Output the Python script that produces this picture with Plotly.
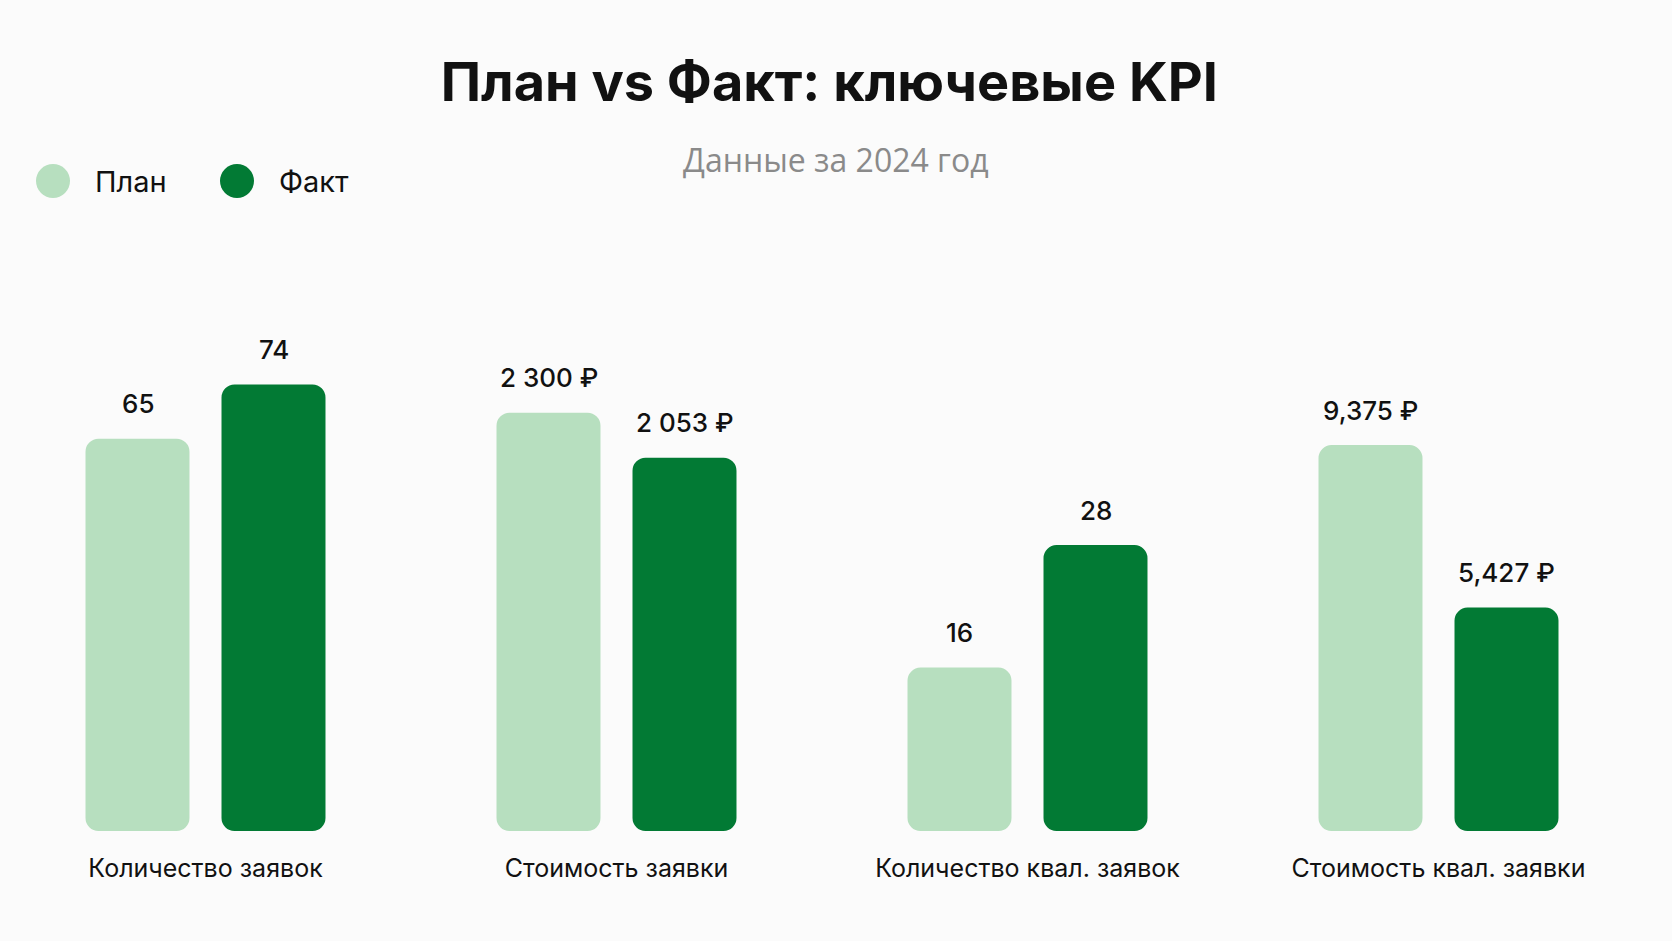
import plotly.graph_objects as go
from plotly.subplots import make_subplots

# KPI data, 2024
categories = ["Количество заявок", "Стоимость заявки",
              "Количество квал. заявок", "Стоимость квал. заявки"]
series_names = ["План", "Факт"]
plan_values = [65, 2300, 16, 9375]
fact_values = [74, 2053, 28, 5427]
plan_labels = ["65", "2 300 ₽", "16", "9,375 ₽"]
fact_labels = ["74", "2 053 ₽", "28", "5,427 ₽"]

# every KPI has its own scale
y_scale_max = [88, 2920, 52, 12900]

colors = ["#b7dfbf", "#027a34"]
bg = "#fbfbfb"
W, H = 1672, 941
M = dict(l=0, r=28, t=300, b=110)
RADIUS = 13          # px, bar corner radius
BAR_W = 0.253        # bar width in category units
BAR_SHIFT = 68       # px, distance of each bar from group centre

pw = W - M["l"] - M["r"]
ph = H - M["t"] - M["b"]
unit_px = pw / 4     # one category unit in pixels


def px(x):
    return (x - M["l"]) / pw


def py(y):
    return (H - M["b"] - y) / ph


fig = make_subplots(rows=1, cols=4, horizontal_spacing=0)

for i, cat in enumerate(categories):
    for name, vals, labels, color, sign in zip(
            series_names, [plan_values, fact_values], [plan_labels, fact_labels], colors, [-1, 1]):
        offset = (sign * BAR_SHIFT) / unit_px - BAR_W / 2
        # explicit base -> plotly rounds both ends of the bar
        fig.add_trace(go.Bar(
            x=[cat], y=[vals[i]], base=[0],
            width=BAR_W, offset=offset, name=name,
            marker=dict(color=color, cornerradius=RADIUS, line=dict(width=0)),
            showlegend=False, hoverinfo="skip",
        ), row=1, col=i + 1)

        fig.add_annotation(
            x=cat, y=vals[i], xref=f"x{i + 1}", yref=f"y{i + 1}",
            text=labels[i], showarrow=False,
            xshift=sign * BAR_SHIFT, yshift=35, yanchor="middle",
            font=dict(family="Inter", size=26, color="#111111", weight=500),
        )

    fig.update_xaxes(
        range=[-0.5, 0.5], showgrid=False, zeroline=False, showline=False,
        ticks="", ticklabelstandoff=20,
        tickfont=dict(family="Inter", size=25, color="#111111"),
        row=1, col=i + 1,
    )
    fig.update_yaxes(
        range=[0, y_scale_max[i]], visible=False, showgrid=False,
        row=1, col=i + 1,
    )

# custom legend with large round markers
legend_x = [53, 237]
for name, color, lx in zip(series_names, colors, legend_x):
    fig.add_shape(
        type="circle", xref="paper", yref="paper",
        xsizemode="pixel", ysizemode="pixel",
        xanchor=px(lx), yanchor=py(181),
        x0=-17, x1=17, y0=-17, y1=17,
        fillcolor=color, line=dict(width=0),
    )
    fig.add_annotation(
        x=px(lx + 40), y=py(181), xref="paper", yref="paper",
        text=name, showarrow=False, xanchor="left", yanchor="middle",
        font=dict(family="Inter", size=29, color="#111111"),
    )

fig.add_annotation(
    x=px(W / 2), y=py(160), xref="paper", yref="paper",
    text="Данные за 2024 год", showarrow=False,
    xanchor="center", yanchor="middle",
    font=dict(family="Open Sans", size=32, color="#8a8a8a"),
)

fig.update_layout(
    width=W, height=H,
    margin=M,
    title=dict(
        text="<b>План vs Факт: ключевые KPI</b>",
        x=0.496, xanchor="center", y=1 - 82 / H, yanchor="middle",
        font=dict(family="Inter", size=54, color="#111111"),
    ),
    barmode="overlay",
    paper_bgcolor=bg, plot_bgcolor=bg,
)

fig.write_html("out.html", config={"displayModeBar": False},
               post_script="document.body.style.margin='0px';")
